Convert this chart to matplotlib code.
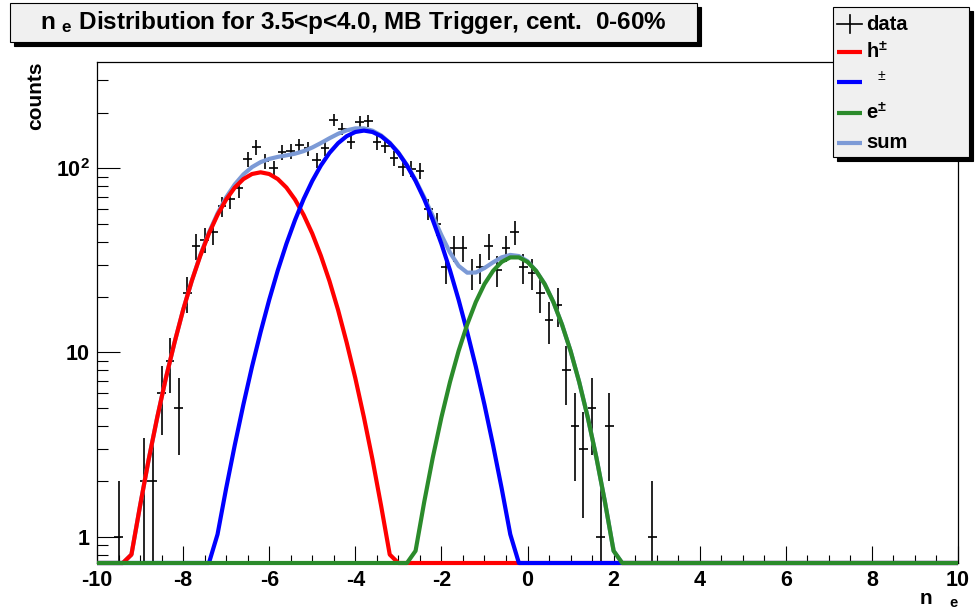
import numpy as np
import matplotlib
matplotlib.use("Agg")
import matplotlib.pyplot as plt
from matplotlib.patches import Rectangle
from matplotlib.lines import Line2D
from matplotlib.ticker import FixedLocator, FixedFormatter, MultipleLocator, LogLocator, NullFormatter

plt.rcParams['font.family'] = ['Liberation Sans', 'DejaVu Sans']
plt.rcParams['font.weight'] = 'bold'
plt.rcParams['axes.unicode_minus'] = False
plt.rcParams['mathtext.fontset'] = 'custom'
plt.rcParams['mathtext.rm'] = 'Liberation Sans:bold'
plt.rcParams['mathtext.it'] = 'Liberation Sans:bold'
plt.rcParams['mathtext.bf'] = 'Liberation Sans:bold'

# histogram, bins of width 0.2: centres and counts of the non-empty bins
bin_x = [-9.5, -8.9, -8.7, -8.5, -8.3, -8.1, -7.9, -7.7, -7.5, -7.3,
         -7.1, -6.9, -6.7, -6.5, -6.3, -6.1, -5.9, -5.7, -5.5, -5.3,
         -5.1, -4.9, -4.7, -4.5, -4.3, -4.1, -3.9, -3.7, -3.5, -3.3,
         -3.1, -2.9, -2.7, -2.5, -2.3, -2.1, -1.9, -1.7, -1.5, -1.3,
         -1.1, -0.9, -0.7, -0.5, -0.3, -0.1, 0.1, 0.3, 0.5, 0.7,
         0.9, 1.1, 1.3, 1.5, 1.7, 1.9, 2.9]
bin_n = [1, 2, 2, 6, 9, 5, 21, 38, 41, 45,
         62, 68, 78, 112, 130, 109, 100, 122, 124, 133,
         128, 111, 128, 183, 164, 139, 178, 181, 138, 132,
         113, 101, 99, 97, 60, 50, 29, 37, 37, 27,
         29, 38, 28, 37, 45, 29, 27, 21, 15, 18,
         8, 4, 3, 5, 1, 4, 1]

# fitted components, read every 0.2 starting at *_start (zero elsewhere)
h_start = -9.6
h_vals = [0.20, 0.41, 0.80, 1.47, 2.62, 4.45, 7.26, 11.3, 17.0, 24.4,
          33.5, 44.2, 55.8, 67.6, 78.5, 87.3, 93.0, 95.0, 93.0, 87.3,
          78.5, 67.6, 55.8, 44.2, 33.5, 24.4, 17.0, 11.3, 7.26, 4.45,
          2.62, 1.47, 0.80, 0.41, 0.20]
pi_start = -7.6
pi_vals = [0.29, 0.557, 1.03, 1.83, 3.14, 5.21, 8.36, 12.9, 19.3, 27.9,
           38.9, 52.3, 68.0, 85.3, 103.4, 121.0, 136.7, 149.2, 157.2, 160.0,
           157.2, 149.2, 136.7, 121.0, 103.4, 85.3, 68.0, 52.3, 38.9, 27.9,
           19.3, 12.9, 8.36, 5.21, 3.14, 1.83, 1.03, 0.557, 0.29]
e_start = -3.0
e_vals = [0.209, 0.43, 0.838, 1.54, 2.69, 4.44, 6.92, 10.2, 14.2, 18.8,
          23.5, 27.7, 31.0, 32.8, 32.8, 31.0, 27.7, 23.5, 18.8, 14.2,
          10.2, 6.92, 4.44, 2.69, 1.54, 0.838, 0.43, 0.209]

y_min, y_max = 0.72, 377

grid = np.linspace(-10, 10, 101)


def on_grid(start, vals):
    full = np.zeros(grid.size)
    i0 = int(round((start + 10) / 0.2))
    full[i0:i0 + len(vals)] = vals
    return full


def fx(px):
    return px / 976


def fy(py):
    return 1 - py / 615


h_curve = on_grid(h_start, h_vals)
pi_curve = on_grid(pi_start, pi_vals)
e_curve = on_grid(e_start, e_vals)
sum_curve = h_curve + pi_curve + e_curve

fig = plt.figure(figsize=(9.76, 6.15), dpi=100)
ax = fig.add_axes([fx(97), fy(563), fx(958) - fx(97), fy(62) - fy(563)])

n = np.array(bin_n, dtype=float)
err_hi = np.sqrt(n)
err_lo = np.minimum(np.sqrt(n), n - 0.5)
ax.errorbar(bin_x, n, xerr=0.1, yerr=[err_lo, err_hi], fmt='none',
            ecolor='black', elinewidth=1.2, capsize=0, zorder=2)

# curves are floored at the frame bottom like in the original
for curve, col, z in [(sum_curve, '#7c9ad6', 3), (h_curve, '#ff0000', 4),
                      (pi_curve, '#0000ff', 5), (e_curve, '#2b8b2b', 6)]:
    ax.plot(grid, np.maximum(curve, y_min), color=col, lw=3,
            solid_capstyle='butt', clip_on=False, zorder=z)

ax.set_yscale('log')
ax.set_xlim(-10, 10)
ax.set_ylim(y_min, y_max)

ax.xaxis.set_major_locator(FixedLocator(np.arange(-10, 11, 2)))
ax.xaxis.set_minor_locator(MultipleLocator(0.5))
ax.yaxis.set_major_locator(FixedLocator([1, 10, 100]))
ax.yaxis.set_major_formatter(FixedFormatter(['1', '10', r'$10^{2}$']))
ax.yaxis.set_minor_locator(LogLocator(base=10, subs=np.arange(2, 10)))
ax.yaxis.set_minor_formatter(NullFormatter())

ax.tick_params(axis='x', which='major', direction='in', length=12, width=0.8,
               labelsize=15.5, pad=5, top=False)
ax.tick_params(axis='x', which='minor', direction='in', length=6, width=0.8, top=False)
ax.tick_params(axis='y', which='major', direction='in', length=16.5, width=0.8,
               labelsize=15.5, pad=5, right=False)
ax.tick_params(axis='y', which='minor', direction='in', length=8, width=0.8, right=False)
for s in ax.spines.values():
    s.set_linewidth(0.9)

fig.text(fx(36), fy(62), 'counts', rotation=90, ha='center', va='top', fontsize=15)
fig.text(fx(959), fy(601), r'n   $_{e}$', ha='right', va='center', fontsize=15)

# title box with shadow
fig.add_artist(Rectangle((fx(14), fy(46)), fx(687), fy(3) - fy(42),
                         transform=fig.transFigure, facecolor='black',
                         edgecolor='black', lw=0.8, zorder=1))
fig.add_artist(Rectangle((fx(10), fy(42)), fx(687), fy(3) - fy(42),
                         transform=fig.transFigure, facecolor='#f0f0f0',
                         edgecolor='black', lw=0.8, zorder=2))
fig.text(fx(353), fy(23), r'n $_{e}$ Distribution for 3.5<p<4.0, MB Trigger, cent.  0-60%',
         ha='center', va='center', fontsize=17.5, zorder=3)

# legend box with shadow
fig.add_artist(Rectangle((fx(837), fy(161)), fx(136), fy(7) - fy(157),
                         transform=fig.transFigure, facecolor='black',
                         edgecolor='black', lw=0.8, zorder=1))
fig.add_artist(Rectangle((fx(833), fy(157)), fx(136), fy(7) - fy(157),
                         transform=fig.transFigure, facecolor='#f0f0f0',
                         edgecolor='black', lw=0.8, zorder=2))

fig.add_artist(Line2D([fx(837), fx(862)], [fy(24), fy(24)], color='black', lw=1.2,
                      transform=fig.transFigure, zorder=3))
fig.add_artist(Line2D([fx(849.5), fx(849.5)], [fy(15), fy(33)], color='black', lw=1.2,
                      transform=fig.transFigure, zorder=3))
fig.text(fx(866), fy(24), 'data', ha='left', va='center', fontsize=14.5, zorder=3)

legend_rows = [('#ff0000', 52, r'h$^{\pm}$'), ('#0000ff', 82, ''),
               ('#2b8b2b', 113, r'e$^{\pm}$'), ('#7c9ad6', 143, 'sum')]
for col, yy, lab in legend_rows:
    fig.add_artist(Line2D([fx(837), fx(862)], [fy(yy), fy(yy)], color=col, lw=3,
                          solid_capstyle='butt', transform=fig.transFigure, zorder=3))
    if lab:
        fig.text(fx(866), fy(yy), lab, ha='left', va='center', fontsize=14.5, zorder=3)
fig.text(fx(878), fy(76), '±', ha='left', va='center', fontsize=10,
         fontweight='normal', zorder=3)

fig.savefig('out.png', dpi=100, facecolor='white')
